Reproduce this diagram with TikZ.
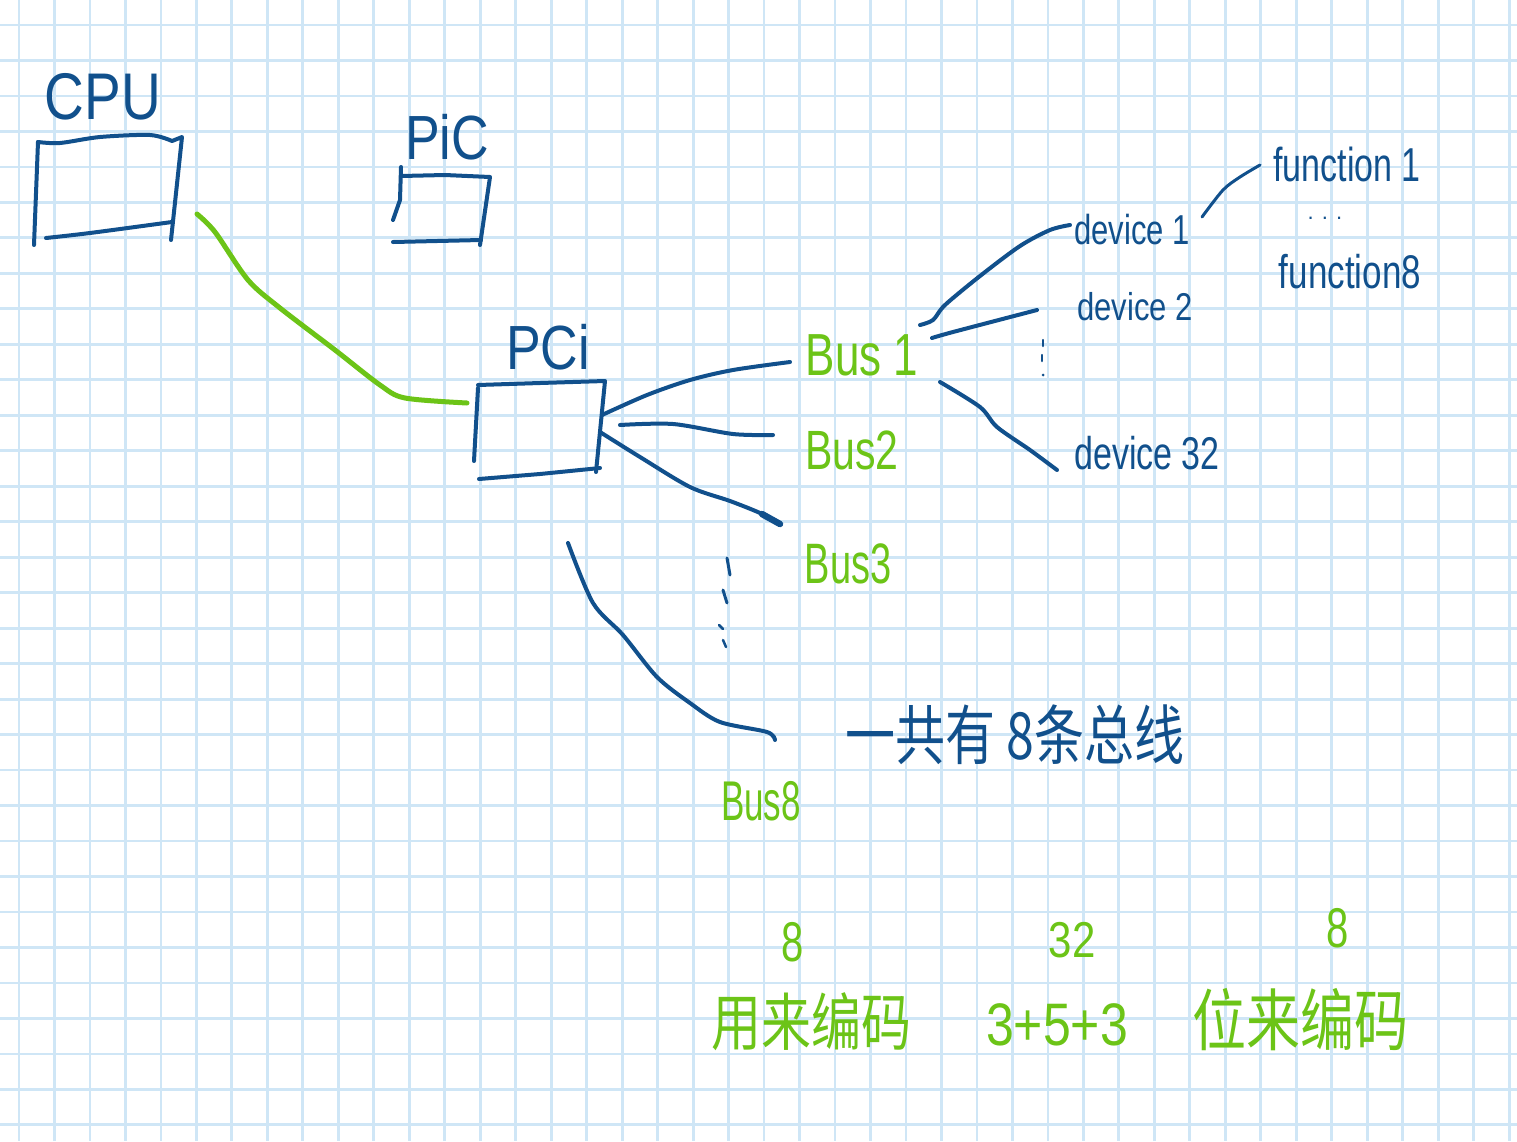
\documentclass[tikz,border=0pt]{standalone}
\usepackage{fontspec}
\usepackage{graphicx}
\setmainfont{Liberation Sans}
\newfontfamily\cjkfont{Noto Sans CJK SC}
\definecolor{ink}{HTML}{11508C}
\definecolor{grn}{HTML}{6CC417}
\definecolor{gridc}{HTML}{CFE6F6}
\newcommand{\vstr}[2]{\scalebox{1}[#1]{#2}}
\tikzset{
  inkline/.style={draw=ink, line width=4pt, line cap=round, line join=round},
  grnline/.style={draw=grn, line width=5pt, line cap=round, line join=round},
  gridline/.style={draw=gridc, line width=2.8pt},
  bluetxt/.style={text=ink, inner sep=0pt},
  greentxt/.style={text=grn, inner sep=0pt},
}
\begin{document}
\begin{tikzpicture}[x=1pt,y=-1pt]
\useasboundingbox (0,0) rectangle (1517,1141);
\fill[white] (0,0) rectangle (1517,1141);
% grid
\foreach \i in {0,...,42} \draw[gridline] ({19+35.48*\i},0) -- ({19+35.48*\i},1141);
\foreach \j in {0,...,31} \draw[gridline] (0,{25+35.48*\j}) -- (1517,{25+35.48*\j});

% ---- labels ----
\node[bluetxt, font=\fontsize{55}{60}\selectfont] (cpu) at (103,97) {\vstr{1.2}{CPU}};
\node[bluetxt, font=\fontsize{52}{56}\selectfont] (pic) at (447,137) {\vstr{1.2}{PiC}};
\node[bluetxt, font=\fontsize{52}{56}\selectfont] (pci) at (548,347) {\vstr{1.2}{PCi}};

\node[greentxt, font=\fontsize{44}{48}\selectfont] (bus1) at (862,355) {\vstr{1.35}{Bus 1}};
\node[greentxt, font=\fontsize{41}{45}\selectfont] (bus2) at (852,450) {\vstr{1.35}{Bus2}};
\node[greentxt, font=\fontsize{38}{42}\selectfont] (bus3) at (848,564) {\vstr{1.5}{Bus3}};
\node[greentxt, font=\fontsize{35}{40}\selectfont] (bus8) at (761,801) {\vstr{1.6}{Bus8}};

\node[bluetxt, font=\fontsize{31}{35}\selectfont] (dev1) at (1132,230) {\vstr{1.35}{device 1}};
\node[bluetxt, font=\fontsize{31}{35}\selectfont] (dev2) at (1135,307) {\vstr{1.25}{device 2}};
\node[bluetxt, font=\fontsize{34}{38}\selectfont] (dev32) at (1147,453) {\vstr{1.35}{device 32}};

\node[bluetxt, font=\fontsize{34}{38}\selectfont] (fun1) at (1347,164) {\vstr{1.4}{function 1}};
\node[bluetxt, font=\fontsize{22}{26}\selectfont] (fdots) at (1325,218) {. . .};
\node[bluetxt, font=\fontsize{35}{40}\selectfont] (fun8) at (1350,272) {\vstr{1.35}{function8}};

\node[bluetxt, font=\cjkfont\fontsize{50}{56}\selectfont] (total) at (1015,735) {\vstr{1.3}{一共有 8条总线}};

\node[greentxt, font=\fontsize{40}{44}\selectfont] (n8a) at (793,942) {\vstr{1.4}{8}};
\node[greentxt, font=\fontsize{42}{46}\selectfont] (n32) at (1072,940) {\vstr{1.2}{32}};
\node[greentxt, font=\fontsize{40}{44}\selectfont] (n8b) at (1338,928) {\vstr{1.4}{8}};
\node[greentxt, font=\cjkfont\fontsize{50}{56}\selectfont] (enc1) at (811,1022) {\vstr{1.25}{用来编码}};
\node[greentxt, font=\fontsize{50}{56}\selectfont] (sum) at (1057,1025) {\vstr{1.2}{3+5+3}};
\node[greentxt, font=\cjkfont\fontsize{54}{60}\selectfont] (enc2) at (1300,1020) {\vstr{1.25}{位来编码}};

% ---- boxes ----
% CPU box
\draw[inkline] (38,142) -- (34,245);
\draw[inkline] plot[smooth] coordinates {(38,142) (60,143) (100,137) (150,135) (172,141)} -- (182,137) -- (171,240);
\draw[inkline] plot[smooth] coordinates {(46,238) (90,233) (172,222)};
% PIC box
\draw[inkline] (401,167) -- (400,200) -- (393,220);
\draw[inkline] (401,176) -- (445,175) -- (490,177) -- (480,245);
\draw[inkline] (393,242) -- (481,240);
% PCI box
\draw[inkline] (478,385) -- (540,383) -- (605,381) -- (596,472);
\draw[inkline] (478,388) -- (474,461);
\draw[inkline] (479,479) -- (540,474) -- (600,468);

% ---- connectors (endpoints named) ----
\coordinate (cpuout) at (197,214);
\coordinate (pciin) at (467,403);
\coordinate (p1) at (602,415);
\coordinate (b1in) at (790,362);
\coordinate (p2) at (620,425);
\coordinate (b2in) at (773,435);
\coordinate (p3) at (600,432);
\coordinate (b3in) at (780,524);
\coordinate (p8) at (568,543);
\coordinate (b8in) at (775,740);
\coordinate (b1a) at (920,325);
\coordinate (d1in) at (1070,225);
\coordinate (b1b) at (932,338);
\coordinate (d2in) at (1037,310);
\coordinate (b1c) at (940,382);
\coordinate (d32in) at (1057,470);
\coordinate (d1out) at (1202,217);
\coordinate (f1in) at (1260,165);

\draw[grnline] plot[smooth] coordinates {(cpuout) (215,232) (248,280) (280,308) (335,350) (380,385) (405,398) (pciin)};

\draw[inkline] plot[smooth] coordinates {(p1) (647,395) (690,380) (733,370) (b1in)};
\draw[inkline] plot[smooth] coordinates {(p2) (673,424) (733,434) (b2in)};
\draw[inkline] plot[smooth] coordinates {(p3) (640,457) (690,487) (730,501) (760,513) (b3in)};
\draw[inkline, line width=6.5pt] (762,514) -- (b3in);
\draw[inkline] plot[smooth] coordinates {(p8) (593,603) (623,635) (657,677) (690,703) (720,722) (767,732) (b8in)};
% vertical dots between Bus3 and Bus8
\draw[inkline, line width=3pt] (727,558) -- (730,575);
\draw[inkline, line width=3pt] (723,590) -- (727,603);
\draw[inkline, line width=2.5pt] (719,625) -- (723,629);
\draw[inkline, line width=2.5pt] (723,640) -- (726,647);

\draw[inkline] plot[smooth] coordinates {(b1a) (933,320) (945,305) (980,276) (1020,246) (1050,230) (d1in)};
\draw[inkline] plot[smooth] coordinates {(b1b) (953,332) (d2in)};
\draw[inkline] plot[smooth] coordinates {(b1c) (980,407) (997,427) (1030,450) (d32in)};
% vertical dots between device 2 and device 32
\draw[inkline, line width=2.5pt] (1043,340) -- (1043,346);
\draw[inkline, line width=2.5pt] (1042,355) -- (1042,361);
\fill[ink] (1043,375) circle (1.5);

\draw[inkline, line width=3pt] plot[smooth] coordinates {(d1out) (1223,190) (1240,177) (f1in)};
\end{tikzpicture}
\end{document}
